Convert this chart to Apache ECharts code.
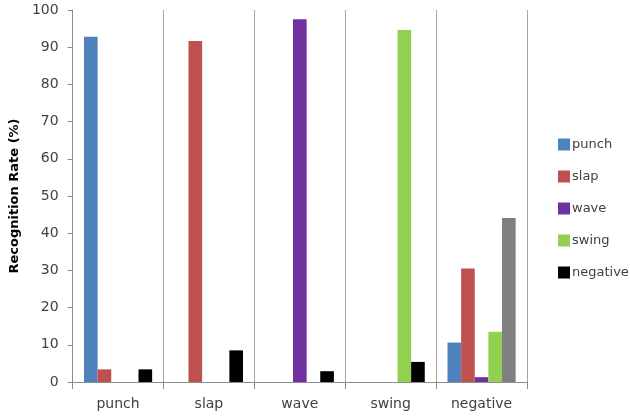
<!DOCTYPE html>
<html>
<head>
<meta charset="utf-8">
<script src="https://cdn.jsdelivr.net/npm/echarts@6/dist/echarts.min.js"></script>
<style>html,body{margin:0;padding:0;background:#fff;}#c{width:630px;height:419px;}</style>
</head>
<body>
<div id="c"></div>
<script>
const categories = ['punch', 'slap', 'wave', 'swing', 'negative'];
const seriesNames = ['punch', 'slap', 'wave', 'swing', 'negative'];
const punchVals = [92.8, 0, 0, 0, 10.6];
const slapVals = [3.4, 91.7, 0, 0, 30.5];
const waveVals = [0, 0, 97.5, 0, 1.3];
const swingVals = [0, 0, 0, 94.6, 13.5];
const negativeVals = [3.4, 8.5, 2.9, 5.4, 44.1];
const yTicks = [0, 10, 20, 30, 40, 50, 60, 70, 80, 90, 100];

const colors = ['#4F81BD', '#C0504D', '#7030A0', '#92D050', '#000000'];
const allVals = [punchVals, slapVals, waveVals, swingVals, negativeVals];

const chart = echarts.init(document.getElementById('c'), null, {renderer: 'canvas'});
const font = 'DejaVu Sans';
const series = seriesNames.map((n, i) => ({
  name: n,
  type: 'bar',
  barGap: '0%',
  barCategoryGap: '25%',
  itemStyle: {color: colors[i]},
  data: allVals[i].map((v, j) => (i === 4 && j === 4) ? {value: v, itemStyle: {color: '#808080'}} : v)
}));

chart.setOption({
  animation: false,
  backgroundColor: '#ffffff',
  color: colors,
  grid: {left: 71, right: 103, top: 10, bottom: 37},
  legend: {
    orient: 'vertical',
    left: 553,
    top: 133,
    itemWidth: 12,
    itemHeight: 12,
    itemGap: 19,
    icon: 'rect',
    textStyle: {fontFamily: font, fontSize: 13, color: '#404040', padding: [0, 0, 0, -3]},
    data: seriesNames
  },
  xAxis: {
    type: 'category',
    data: categories,
    axisLine: {lineStyle: {color: '#8c8c8c', width: 1}},
    axisTick: {show: true, length: 7, lineStyle: {color: '#8c8c8c'}},
    splitLine: {show: true, lineStyle: {color: '#a6a6a6', width: 1}},
    axisLabel: {fontFamily: font, fontSize: 14, color: '#404040', margin: 15}
  },
  yAxis: {
    type: 'value',
    min: 0,
    max: 100,
    interval: 10,
    name: 'Recognition Rate (%)',
    nameLocation: 'middle',
    nameGap: 45,
    nameTextStyle: {fontFamily: font, fontSize: 13, fontWeight: 'bold', color: '#000'},
    axisLine: {show: true, lineStyle: {color: '#8c8c8c', width: 1}},
    axisTick: {show: true, length: 5, lineStyle: {color: '#8c8c8c'}},
    splitLine: {show: false},
    axisLabel: {fontFamily: font, fontSize: 14, color: '#404040', margin: 14,
      formatter: v => yTicks.includes(v) ? String(v) : ''}
  },
  series: series
});
</script>
</body>
</html>
